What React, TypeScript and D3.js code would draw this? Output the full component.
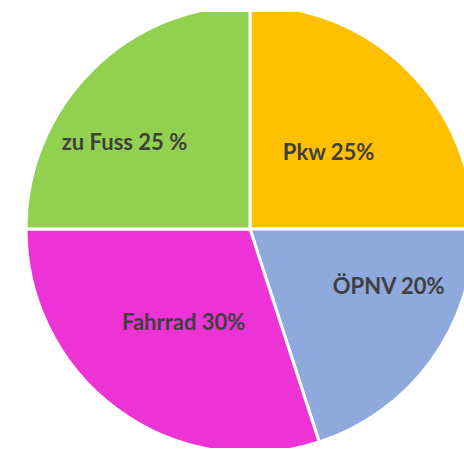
import React, { useMemo } from "react";
import * as d3 from "d3";

// Verkehrsmittelwahl (Anteile in %)
const categories = ["Pkw", "ÖPNV", "Fahrrad", "zu Fuss"];
const shares = [25, 20, 30, 25];
const labels = ["Pkw 25%", "ÖPNV 20%", "Fahrrad 30%", "zu Fuss 25 %"];
const colors = ["#FFC000", "#8EA9DB", "#EE33D6", "#92D050"];

// label placement: radius factor and angle shift (deg) relative to slice middle
const labelRadius = [0.49, 0.67, 0.51, 0.68];
const labelShift = [0.7, -13.5, -0.5, -10.5];

interface Slice {
  name: string;
  value: number;
  label: string;
}

const WIDTH = 464;
const HEIGHT = 450;

export default function App() {
  const cx = 250;
  const cy = 229;
  const radius = 224;

  const data: Slice[] = useMemo(
    () =>
      categories.map((name, i) => ({
        name,
        value: shares[i],
        label: labels[i],
      })),
    []
  );

  const arcs = useMemo(
    () =>
      d3
        .pie<Slice>()
        .sort(null)
        .value((d) => d.value)(data),
    [data]
  );

  const arc = d3.arc<d3.PieArcDatum<Slice>>().innerRadius(0).outerRadius(radius);

  const color = d3.scaleOrdinal<string>().domain(categories).range(colors);

  return (
    <div style={{ position: "fixed", left: 0, top: 0, background: "#fff" }}>
      <svg width={WIDTH} height={HEIGHT}>
        <defs>
          <clipPath id="pieClip">
            <rect x={0} y={12} width={WIDTH} height={436} />
          </clipPath>
        </defs>
        {/* clip in page coords, so the outer group stays untransformed */}
        <g clipPath="url(#pieClip)">
          <g transform={`translate(${cx},${cy})`} stroke="#fff" strokeWidth={3}>
            {arcs.map((a) => (
              <path key={a.data.name} d={arc(a) || ""} fill={color(a.data.name)} />
            ))}
          </g>
        </g>
        <g transform={`translate(${cx},${cy})`}>
          {arcs.map((a, i) => {
            const mid = (a.startAngle + a.endAngle) / 2 + (labelShift[i] * Math.PI) / 180;
            const r = radius * labelRadius[i];
            const x = r * Math.sin(mid);
            const y = -r * Math.cos(mid);
            return (
              <text
                key={a.data.name + "-label"}
                x={x}
                y={y}
                dy="0.35em"
                textAnchor="middle"
                fontFamily="Lato, 'Open Sans', sans-serif"
                fontWeight={700}
                fontSize={22}
                fill="#3F3F3F"
              >
                {a.data.label}
              </text>
            );
          })}
        </g>
      </svg>
    </div>
  );
}
